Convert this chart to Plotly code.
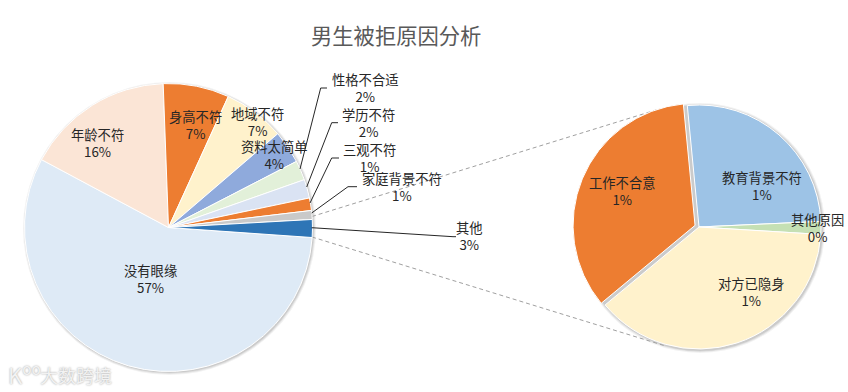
import plotly.graph_objects as go

W, H = 848, 392
FONT = "Noto Sans CJK SC, Microsoft YaHei, sans-serif"

title_text = "男生被拒原因分析"

main_labels = ["没有眼缘", "年龄不符", "身高不符", "地域不符", "资料太简单",
               "性格不合适", "学历不符", "三观不符", "家庭背景不符", "其他"]
main_values = [56.7, 16.6, 7.4, 6.9, 3.7, 2.2, 2.1, 1.4, 1.0, 2.0]
main_percent = ["57%", "16%", "7%", "7%", "4%", "2%", "2%", "1%", "1%", "3%"]
main_colors = ["#DEEAF6", "#FBE5D6", "#ED7D31", "#FFF2CC", "#8FAADC",
               "#E2F0D9", "#DAE3F3", "#ED7D31", "#C9C9C9", "#2E75B6"]

sub_labels = ["教育背景不符", "其他原因", "对方已隐身", "工作不合意"]
sub_values = [25.8, 1.7, 38.0, 34.5]
sub_percent = ["1%", "0%", "1%", "1%"]
sub_colors = ["#9DC3E6", "#C5E0B4", "#FFF2CC", "#ED7D31"]
sub_pull = [0, 0, 0, 0.035]

# label centres, pixels
main_label_pos = [(150, 279), (97, 143), (195, 125), (257, 122), (274, 154.5),
                  (365, 88), (368, 123), (369.5, 158), (402, 187), (470, 236)]
sub_label_pos = [(762, 186), (817, 228), (751, 292), (622, 191)]

leaders = [
    [(327, 88), (320.7, 88), (300, 169)],
    [(338, 122.7), (331.7, 122.7), (306.7, 187)],
    [(339, 158), (331.7, 158), (310, 203)],
    [(357, 186.7), (348, 186.7), (311.7, 213)],
    [(456, 236.7), (453, 236.7), (311.7, 227.7)],
]
connectors = [[(312, 216.5), (656, 110)], [(312, 237), (664, 345.5)]]


def px(x):
    return x / W


def py(y):
    return 1 - y / H


def dom(cx, cy, half):
    return dict(x=[px(cx - half), px(cx + half)], y=[py(cy + half), py(cy - half)])


fig = go.Figure()
fig.add_trace(go.Pie(
    labels=main_labels, values=main_values, sort=False, direction="clockwise",
    rotation=94, textinfo="none", hoverinfo="label+percent",
    marker=dict(colors=main_colors, line=dict(color="white", width=1)),
    domain=dom(168.5, 227.5, 144), showlegend=False))
fig.add_trace(go.Pie(
    labels=sub_labels, values=sub_values, sort=False, direction="clockwise",
    rotation=-5.5, textinfo="none", hoverinfo="label+percent", pull=sub_pull,
    marker=dict(colors=sub_colors, line=dict(color="white", width=1)),
    domain=dom(699, 227, 122 * 1.035), showlegend=False))

shapes = []
# soft drop shadows under both pies
for cx, cy, r in [(168.5, 227.5, 144), (699, 227, 122.5)]:
    for grow, alpha in [(2.5, 0.05), (1.5, 0.07), (0.5, 0.09)]:
        shapes.append(dict(type="circle", xref="paper", yref="paper", layer="below",
                           x0=px(cx - r - grow + 1), x1=px(cx + r + grow + 1),
                           y0=py(cy + r + grow + 1), y1=py(cy - r - grow + 1),
                           line=dict(width=0), fillcolor=f"rgba(0,0,0,{alpha})"))
for pts in leaders:
    for a, b in zip(pts, pts[1:]):
        shapes.append(dict(type="line", xref="paper", yref="paper",
                           x0=px(a[0]), y0=py(a[1]), x1=px(b[0]), y1=py(b[1]),
                           line=dict(color="#262626", width=1)))
for a, b in connectors:
    shapes.append(dict(type="line", xref="paper", yref="paper", layer="below",
                       x0=px(a[0]), y0=py(a[1]), x1=px(b[0]), y1=py(b[1]),
                       line=dict(color="#A0A0A0", width=1, dash="4px,3px")))

annotations = []
for names, pcts, pos in [(main_labels, main_percent, main_label_pos),
                         (sub_labels, sub_percent, sub_label_pos)]:
    for n, p, (x, y) in zip(names, pcts, pos):
        annotations.append(dict(text=f"{n}<br>{p}", x=px(x), y=py(y), xref="paper", yref="paper",
                                showarrow=False, xanchor="center", yanchor="middle",
                                font=dict(family=FONT, size=13.3, color="#262626")))
annotations.append(dict(text=title_text, x=px(395.5), y=py(34), xref="paper", yref="paper",
                        showarrow=False, xanchor="center", yanchor="middle",
                        font=dict(family=FONT, size=21.3, color="#595959")))
# watermark
for txt, x, y, size in [("大数跨境", 76, 375, 18), ("K<sup>oo</sup>", 24, 373, 22)]:
    annotations.append(dict(text=txt, x=px(x), y=py(y), xref="paper", yref="paper",
                            showarrow=False, xanchor="center", yanchor="middle",
                            font=dict(family=FONT, size=size, color="#F2F2F2",
                                      shadow="0px 0px 2px #9A9A9A")))

fig.update_layout(width=W, height=H, margin=dict(l=0, r=0, t=0, b=0),
                  paper_bgcolor="white", plot_bgcolor="white",
                  shapes=shapes, annotations=annotations, showlegend=False)
fig.write_html("out.html", config={"displayModeBar": False},
               post_script="document.body.style.margin='0';document.body.style.overflow='hidden';")
